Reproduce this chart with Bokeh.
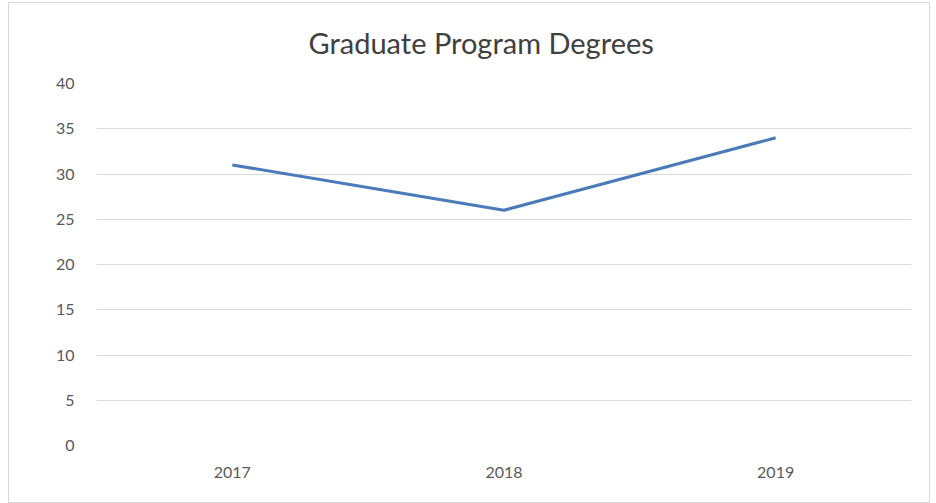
from bokeh.plotting import figure
from bokeh.models import FixedTicker
from bokeh.embed import file_html
from bokeh.resources import INLINE

title_text = "Graduate Program Degrees"
years = ["2017", "2018", "2019"]
degrees = [31, 26, 34]
y_ticks = [0, 5, 10, 15, 20, 25, 30, 35, 40]

p = figure(x_range=years, y_range=(0, 40), width=922, height=501,
           output_backend="svg", toolbar_location=None,
           min_border_left=87, min_border_right=20, min_border_top=80, min_border_bottom=59)

p.title.text = title_text
p.title.align = "left"
p.title.offset = 212
p.title.vertical_align = "top"
p.title.text_font = "Lato"
p.title.text_font_size = "29px"
p.title.text_font_style = "normal"
p.title.text_color = "#404040"
p.title.standoff = 43

p.line(x=years, y=degrees, line_color="#4a7ab8", line_width=3)

p.yaxis.ticker = FixedTicker(ticks=y_ticks)
for ax in (p.xaxis[0], p.yaxis[0]):
    ax.axis_line_color = None
    ax.major_tick_line_color = None
    ax.minor_tick_line_color = None
    ax.major_label_text_font = "Lato"
    ax.major_label_text_font_size = "16px"
    ax.major_label_text_color = "#595959"
p.yaxis.major_label_standoff = 16
p.xaxis.major_label_standoff = 15

p.xgrid.grid_line_color = None
p.ygrid.grid_line_color = "#d9d9d9"
p.ygrid.grid_line_width = 1
p.outline_line_color = None
p.background_fill_color = "white"
p.border_fill_color = "white"
p.styles = {"border": "1px solid #d9d9d9", "margin-left": "8px", "margin-top": "2px"}

open("out.html", "w").write(file_html(p, INLINE))
